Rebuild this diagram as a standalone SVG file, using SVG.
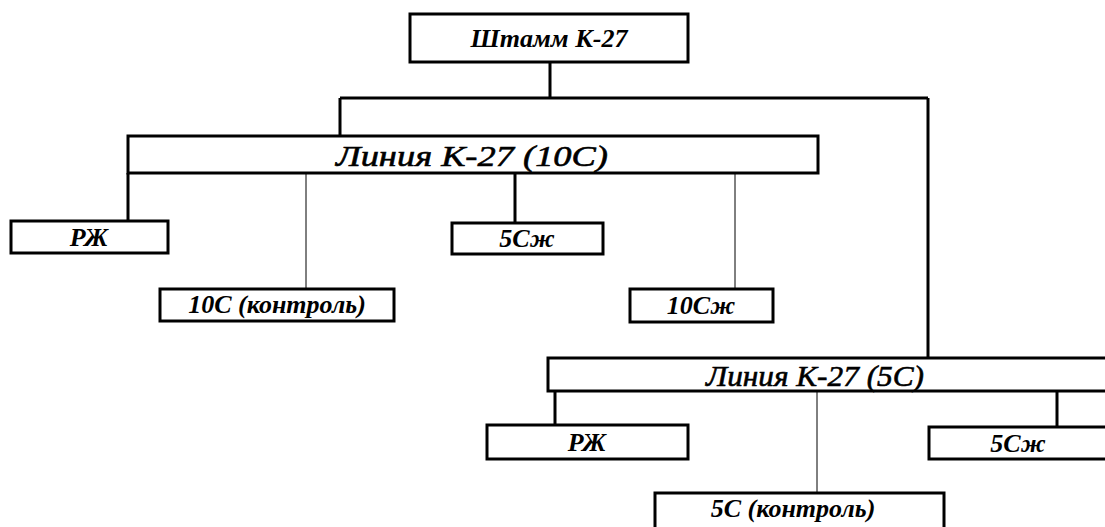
<svg xmlns="http://www.w3.org/2000/svg" width="1105" height="527" viewBox="0 0 1105 527">
<style>
.box{fill:#fff;stroke:#000;stroke-width:3}
.t{font-family:"Liberation Serif",serif;font-style:italic;font-weight:bold;font-size:26px;text-anchor:middle;fill:#000}
.tl{font-family:"Liberation Serif",serif;font-style:italic;font-size:30px;text-anchor:middle;fill:#000;stroke:#000;stroke-width:0.6}
.thick{stroke:#000;stroke-width:3;fill:none}
.thin{stroke:#000;stroke-width:1;fill:none}
</style>
<rect width="1105" height="527" fill="#fff"/>
<g id="connectors">
<path class="thick" d="M550,62 V98 M340,98 H928 M340,98 V136 M928,98 V358"/>
<path class="thick" d="M128,173 V221 M515,173 V223"/>
<path class="thin" d="M306,173 V289 M735,173 V289"/>
<path class="thick" d="M555,391 V425 M1057,391 V427"/>
<path class="thin" d="M817,391 V493"/>
</g>
<g id="n_strain"><rect class="box" x="410" y="14" width="278" height="48"/><text class="t" x="549" y="47">Штамм К-27</text></g>
<g id="n_line10"><rect class="box" x="128" y="136" width="690" height="37"/><text class="tl" x="472" y="166" textLength="272" lengthAdjust="spacingAndGlyphs">Линия К-27 (10С)</text></g>
<g id="n_rzh1"><rect class="box" x="11" y="221" width="157" height="32"/><text class="t" x="89" y="246">РЖ</text></g>
<g id="n_5szh1"><rect class="box" x="452" y="223" width="151" height="31"/><text class="t" x="527" y="247">5Сж</text></g>
<g id="n_10control"><rect class="box" x="160" y="289" width="234" height="32"/><text class="t" x="277" y="313">10С (контроль)</text></g>
<g id="n_10szh"><rect class="box" x="630" y="289" width="143" height="33"/><text class="t" x="701" y="314">10Сж</text></g>
<g id="n_line5"><rect class="box" x="548" y="358" width="570" height="33"/><text class="tl" x="815" y="386" textLength="218" lengthAdjust="spacingAndGlyphs">Линия К-27 (5С)</text></g>
<g id="n_rzh2"><rect class="box" x="487" y="425" width="201" height="34"/><text class="t" x="587" y="451">РЖ</text></g>
<g id="n_5szh2"><rect class="box" x="929" y="427" width="190" height="32"/><text class="t" x="1018" y="452">5Сж</text></g>
<g id="n_5control"><rect class="box" x="655" y="493" width="289" height="45"/><text class="t" x="793" y="517">5С (контроль)</text></g>
</svg>
